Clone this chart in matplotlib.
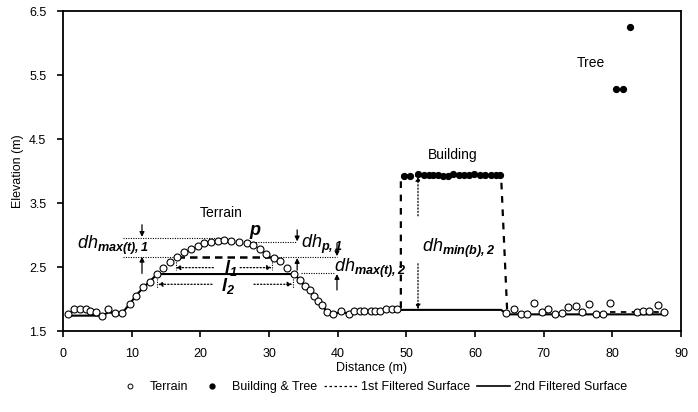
import matplotlib
matplotlib.use('Agg')
import matplotlib.pyplot as plt
from matplotlib.lines import Line2D

plt.rcParams['font.family'] = ['Liberation Sans', 'DejaVu Sans']
plt.rcParams['mathtext.fontset'] = 'custom'
plt.rcParams['mathtext.rm'] = 'Liberation Sans'
plt.rcParams['mathtext.it'] = 'Liberation Sans:italic'
plt.rcParams['mathtext.bf'] = 'Liberation Sans:bold:italic'

# Terrain points (open circles)
terrain_x = [0.7, 1.6, 2.5, 3.3, 4.0, 4.8, 5.7, 6.6, 7.6, 8.6, 9.7, 10.6, 11.7, 12.6,
             13.7, 14.6, 15.6, 16.6, 17.6, 18.6, 19.6, 20.6, 21.6, 22.5, 23.5, 24.5,
             25.6, 26.8, 27.7, 28.7, 29.6, 30.7, 31.6, 32.6, 33.6, 34.5, 35.2, 35.9,
             36.6, 37.2, 37.7, 38.5, 39.3, 40.5, 41.6, 42.4, 43.2, 43.9, 44.8, 45.5,
             46.2, 47.1, 47.9, 48.7,
             64.5, 65.7, 66.7, 67.6, 68.6, 69.7, 70.6, 71.6, 72.6, 73.6, 74.7, 75.6,
             76.6, 77.6, 78.6, 79.6, 83.6, 84.4, 85.4, 86.6, 87.6]
terrain_y = [1.77, 1.85, 1.85, 1.84, 1.82, 1.80, 1.74, 1.84, 1.78, 1.78, 1.92, 2.05, 2.18, 2.27,
             2.39, 2.48, 2.58, 2.65, 2.73, 2.78, 2.83, 2.87, 2.89, 2.91, 2.92, 2.91,
             2.89, 2.88, 2.84, 2.78, 2.71, 2.64, 2.59, 2.48, 2.39, 2.30, 2.20, 2.14,
             2.05, 1.97, 1.91, 1.79, 1.76, 1.82, 1.77, 1.82, 1.82, 1.82, 1.82, 1.82,
             1.82, 1.84, 1.85, 1.85,
             1.78, 1.84, 1.76, 1.76, 1.94, 1.79, 1.84, 1.76, 1.78, 1.88, 1.89, 1.80,
             1.92, 1.76, 1.76, 1.94, 1.80, 1.81, 1.81, 1.91, 1.80]

# Building and tree points (filled)
object_x = [49.6, 50.5, 51.7, 52.6, 53.3, 53.9, 54.6, 55.4, 56.1, 56.8, 57.7, 58.4,
            59.1, 59.9, 60.7, 61.5, 62.3, 63.0, 63.7,
            80.6, 81.5, 82.6]
object_y = [3.92, 3.92, 3.95, 3.94, 3.94, 3.94, 3.93, 3.92, 3.92, 3.95, 3.94, 3.94,
            3.93, 3.95, 3.94, 3.94, 3.93, 3.93, 3.94,
            5.28, 5.28, 6.25]

# 1st filtered surface, visible parts (hump cut, building, tree gap)
first_hump_x = [16.6, 30.6]
first_hump_y = [2.65, 2.65]
first_bldg_x = [49.2, 49.2, 63.8, 64.7]
first_bldg_y = [1.86, 3.93, 3.93, 1.78]
first_tree_x = [79.6, 87.6]
first_tree_y = [1.80, 1.80]

# 2nd filtered surface
second_x = [0.7, 5.7, 6.6, 7.6, 8.6, 9.7, 10.6, 11.7, 12.6, 13.7, 33.6, 34.5, 35.2,
            35.9, 36.6, 37.2, 37.7, 38.5, 39.3, 40.5, 41.6, 42.4, 43.2, 43.9, 44.8,
            45.5, 46.2, 47.1, 47.9, 48.7, 63.8, 64.7, 87.6]
second_y = [1.74, 1.74, 1.79, 1.78, 1.78, 1.92, 2.05, 2.18, 2.27, 2.39, 2.39, 2.30, 2.20,
            2.14, 2.05, 1.97, 1.91, 1.79, 1.76, 1.80, 1.77, 1.80, 1.81, 1.81, 1.81,
            1.81, 1.81, 1.82, 1.83, 1.83, 1.83, 1.76, 1.76]

fig = plt.figure(figsize=(6.98, 4.12), dpi=100)
ax = fig.add_axes([0.0903, 0.1966, 0.8853, 0.7767])

dot = dict(color='black', lw=0.8, ls=(0, (1, 1.2)))
ax.plot(first_hump_x, first_hump_y, color='black', lw=1.8, ls=(0, (3, 2)), zorder=2)
ax.plot(first_bldg_x, first_bldg_y, color='black', lw=1.6, ls=(0, (3, 3)), zorder=2)
ax.plot(first_tree_x, first_tree_y, color='black', lw=1.3, ls=(0, (3, 3)), zorder=2)
ax.plot(second_x, second_y, color='black', lw=1.5, zorder=2)
ax.plot(terrain_x, terrain_y, 'o', ms=5, mfc='white', mec='black', mew=0.8, zorder=3)
ax.plot(object_x, object_y, 'o', ms=4.2, color='black', zorder=3)

# dotted reference lines
ax.plot([8.8, 24.0], [2.96, 2.96], **dot)
ax.plot([27.7, 34.1], [2.89, 2.89], **dot)
ax.plot([8.8, 16.4], [2.65, 2.65], **dot)
ax.plot([30.6, 39.9], [2.65, 2.65], **dot)
ax.plot([34.6, 39.4], [2.40, 2.40], **dot)
ax.plot([16.4, 16.4], [2.65, 2.45], **dot)
ax.plot([30.4, 30.4], [2.65, 2.45], **dot)
ax.plot([13.7, 13.7], [2.39, 2.17], **dot)
ax.plot([33.5, 33.5], [2.39, 2.17], **dot)


def arrow(x0, y0, x1, y1, ls='-'):
    ax.annotate('', xy=(x1, y1), xytext=(x0, y0),
                arrowprops=dict(arrowstyle='-|>', color='black', lw=0.9, ls=ls,
                                mutation_scale=7, shrinkA=0, shrinkB=0))


arrow(11.5, 3.16, 11.5, 2.97)
arrow(11.5, 2.40, 11.5, 2.66)
arrow(34.1, 3.08, 34.1, 2.90)
arrow(34.1, 2.45, 34.1, 2.64)
arrow(39.9, 2.86, 39.9, 2.67)
arrow(39.9, 2.14, 39.9, 2.39)
arrow(21.9, 2.49, 16.4, 2.49, ':')
arrow(25.8, 2.49, 30.4, 2.49, ':')
arrow(21.7, 2.23, 13.8, 2.23, ':')
arrow(27.8, 2.23, 33.4, 2.23, ':')
arrow(51.7, 3.30, 51.7, 3.92, ':')
arrow(51.7, 2.55, 51.7, 1.84, ':')

ax.text(2.1, 2.83, r'$dh_{\mathbf{max(t),1}}$', fontsize=13, va='center')
ax.text(34.7, 2.86, r'$dh_{\mathbf{p,1}}$', fontsize=13, va='center')
ax.text(39.4, 2.48, r'$dh_{\mathbf{max(t),2}}$', fontsize=13, va='center')
ax.text(52.3, 2.79, r'$dh_{\mathbf{min(b),2}}$', fontsize=13, va='center')
ax.text(28.0, 3.05, r'$\mathbf{p}$', fontsize=13, ha='center', va='center')
ax.text(24.4, 2.49, r'$\mathbf{l}_{\mathbf{1}}$', fontsize=13, ha='center', va='center')
ax.text(24.1, 2.21, r'$\mathbf{l}_{\mathbf{2}}$', fontsize=13, ha='center', va='center')
ax.text(23.1, 3.34, 'Terrain', fontsize=10, ha='center', va='center')
ax.text(56.7, 4.25, 'Building', fontsize=10, ha='center', va='center')
ax.text(76.9, 5.69, 'Tree', fontsize=10, ha='center', va='center')

ax.set_xlim(0, 90)
ax.set_ylim(1.5, 6.5)
ax.set_xticks(range(0, 91, 10))
ax.set_yticks([1.5, 2.5, 3.5, 4.5, 5.5, 6.5])
ax.set_yticklabels(['1.5', '2.5', '3.5', '4.5', '5.5', '6.5'])
ax.tick_params(labelsize=9, length=4, width=1.2, direction='out', pad=8)
for s in ax.spines.values():
    s.set_linewidth(1.3)
ax.set_xlabel('Distance (m)', fontsize=9, labelpad=2)
ax.set_ylabel('Elevation (m)', fontsize=9, labelpad=4)

handles = [
    Line2D([], [], ls='none', marker='o', ms=3.5, mfc='white', mec='black', mew=0.7),
    Line2D([], [], ls='none', marker='o', ms=3.5, color='black'),
    Line2D([], [], color='black', lw=0.9, ls=(0, (2, 2))),
    Line2D([], [], color='black', lw=1.2),
]
fig.legend(handles, ['Terrain', 'Building & Tree', '1st Filtered Surface', '2nd Filtered Surface'],
           loc='center', bbox_to_anchor=(0.53, 0.06), ncol=4, frameon=False, fontsize=9,
           handlelength=2.6, handletextpad=0.3, columnspacing=0.6)

fig.savefig('out.png', dpi=100)
